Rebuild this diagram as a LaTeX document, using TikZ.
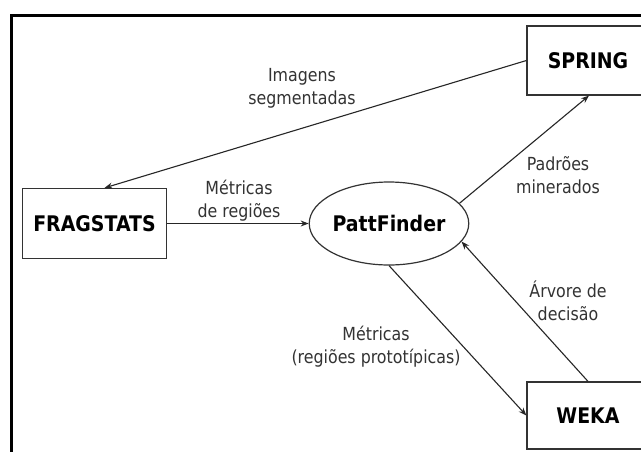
\documentclass[tikz,border=0pt]{standalone}
\usepackage{fontspec}
\setmainfont{DejaVu Sans}[FakeStretch=0.88]
\usepackage{tikz}
\usetikzlibrary{positioning,shapes.geometric,arrows.meta}
\tikzset{
  tool/.style={draw=black!80, line width=1.2pt, minimum width=122pt, minimum height=69pt, inner sep=0pt, font=\fontsize{21.5}{26}\selectfont\bfseries},
  flow/.style={draw=black!85, line width=1.1pt, -{Stealth[length=8pt,width=6pt]}},
  tag/.style={align=center, text=black!80, inner sep=0pt, font=\fontsize{18}{23}\selectfont}
}

\begin{document}
\begin{tikzpicture}[x=1pt,y=-1pt]
\useasboundingbox (0,0) rectangle (641,451);
\fill[white] (0,0) rectangle (641,451);
\draw[line width=2.6pt] (11.3,470) -- (11.3,15.5) -- (660,15.5);
\node[tool] (spring) at (588,60.5) {SPRING};
\node[tool, minimum width=144.5pt, minimum height=70pt] (frag) at (94.5,223.5) {FRAGSTATS};
\node[tool, minimum height=67pt] (weka) at (588,415.5) {WEKA};
\node[tool, ellipse, minimum width=142pt, minimum height=83pt] (patt) at (389,223.5) {PattFinder};
\draw[flow] (spring.west) -- ([xshift=10pt]frag.north);
\draw[flow] (frag.east) -- (patt.west);
\draw[flow] (patt.16) -- ([xshift=1pt]spring.south);
\draw[flow] (patt.south) -- (weka.west);
\draw[flow] (weka.north) -- (patt.-14);
\node[tag] (imgs) at (302,88.5) {Imagens\\segmentadas};
\node[tag] (metr) at (239,200.5) {Métricas\\de regiões};
\node[tag] (padr) at (558,175) {Padrões\\minerados};
\node[tag] (prot) at (376,346.5) {Métricas\\(regiões prototípicas)};
\node[tag] (arvr) at (568,301) {Árvore de\\decisão};
\end{tikzpicture}
\end{document}
